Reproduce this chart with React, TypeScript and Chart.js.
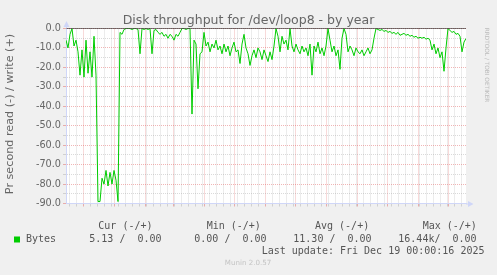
import React, { useEffect, useRef } from 'react';
import { Chart, registerables } from 'chart.js';

Chart.register(...registerables);

const TITLE = 'Disk throughput for /dev/loop8 - by year';
const Y_TITLE = 'Pr second read (-) / write (+)';
const SERIES_LABEL = 'Bytes';

// Day offsets from the graph start (14 Nov 2024) to the last update (19 Dec 2025)
const RANGE_DAYS = 400;
const SAMPLE_STEP_DAYS = 2;

// read rate (plotted negative), one value every 2 days
const readPerSecond = [
  -6, -10, -3, 0, -9, -6, -12, -24, -11, -25,
  -6, -23, -12, -25, -4, -24, -89, -89, -77, -80,
  -73, -81, -74, -80, -73, -78, -89, -2, -3, -0.5,
  0, 0, 0, -0.5, 0, 0, -0.5, -13, 0, -0.5,
  0, -0.5, 0, -13, -1, -0.5, -2, -3, -2, -4,
  -3, -5, -3, -4, -6, -3, -4, -2, 0, 0,
  -0.5, 0, 0, -44, -6, -8, -31, -13, -12, -2,
  -9, -7, -12, -8, -10, -6, -11, -9, -13, -8,
  -12, -9, -14, -10, -7, -12, -11, -18, -8, -3,
  -10, -13, -19, -14, -11, -15, -10, -12, -16, -11,
  -14, -17, -12, -16, -9, 0, -4, -12, -4, -8,
  -6, -11, 0, -9, -12, -8, -11, -13, -9, -12,
  -10, -14, -8, -24, -9, -12, -7, -13, -10, -14,
  -9, 0, -6, -12, -9, -14, -11, -21, -5, 0,
  -3, -12, -9, -11, -14, -10, -12, -13, -11, -14,
  -12, -10, -13, -11, -5, 0, -0.5, -1, -0.5, -1.5,
  -1, -2, -1.5, -2.5, -2, -3, -2, -3.5, -3, -2.5,
  -3.5, -3, -4, -3.5, -4.5, -4, -5, -4.5, -5, -4.5,
  -5.5, -5, -6, -11, -8, -13, -10, -15, -12, -22,
  -10, 0, -1, -2, -1.5, -3, -2.5, -4, -12, -7,
  -5.13,
];
const sampleDays = readPerSecond.map((_, i) => i * SAMPLE_STEP_DAYS);

const monthStartDays = [17, 48, 79, 107, 138, 168, 199, 229, 260, 291, 321, 352, 382];
const FIRST_SUNDAY_DAY = 3;
const quarterLabelDays = [63, 153, 244, 336];
const quarterLabels = ['January 2025', 'April 2025', 'July 2025', 'October 2025'];
const yTickValues = [-90, -85, -80, -75, -70, -65, -60, -55, -50, -45, -40, -35, -30, -25, -20, -15, -10, -5, 0];

const legendHeaders = ['Cur (-/+)', 'Min (-/+)', 'Avg (-/+)', 'Max (-/+)'];
const legendValues = ['5.13 /  0.00', '0.00 /  0.00', '11.30 /  0.00', '16.44k/  0.00'];
const LAST_UPDATE = 'Last update: Fri Dec 19 00:00:16 2025';
const FOOTER = 'Munin 2.0.57';
const WATERMARK = 'RRDTOOL / TOBI OETIKER';

const FONT_COLOR = '#666666';
const AXIS_COLOR = '#CFD6F8';
const MAJOR_GRID = 'rgba(222,79,79,0.42)';
const MINOR_GRID = 'rgba(143,143,143,0.33)';
const LINE_COLOR = '#00CC00';

const weekDays: number[] = [];
for (let d = FIRST_SUNDAY_DAY; d < RANGE_DAYS; d += 7) weekDays.push(d);

const xKind = new Map<number, string>();
weekDays.forEach((d) => xKind.set(d, 'week'));
monthStartDays.forEach((d) => xKind.set(d, 'month'));
quarterLabelDays.forEach((d, i) => xKind.set(d, 'label:' + i));
const xTickValues = Array.from(xKind.keys()).sort((a, b) => a - b);

const muninPlugin = {
  id: 'muninDecor',
  beforeDraw(chart: any) {
    const { ctx, chartArea: a, width, height } = chart;
    ctx.save();
    ctx.fillStyle = '#F0F0F0';
    ctx.fillRect(0, 0, width, height);
    ctx.fillStyle = '#FFFFFF';
    ctx.fillRect(a.left, a.top, a.right - a.left, a.bottom - a.top);
    ctx.restore();
  },
  afterDraw(chart: any) {
    const { ctx, chartArea: a } = chart;
    ctx.save();
    // title
    ctx.fillStyle = FONT_COLOR;
    ctx.font = '12.5px "DejaVu Sans"';
    ctx.textAlign = 'center';
    ctx.textBaseline = 'alphabetic';
    ctx.fillText(TITLE, 248.5, 24);

    // y title
    ctx.save();
    ctx.translate(10.5, 114);
    ctx.rotate(-Math.PI / 2);
    ctx.font = '11.2px "DejaVu Sans"';
    ctx.textBaseline = 'middle';
    ctx.fillText(Y_TITLE, 0, 0);
    ctx.restore();

    // watermark
    ctx.save();
    ctx.translate(487, 65);
    ctx.rotate(Math.PI / 2);
    ctx.font = '5.8px "DejaVu Sans"';
    ctx.fillStyle = '#BBBBBB';
    ctx.textBaseline = 'middle';
    ctx.fillText(WATERMARK, 0, 0);
    ctx.restore();

    // axis arrows
    const yb = Math.round(a.bottom);
    ctx.strokeStyle = AXIS_COLOR;
    ctx.fillStyle = AXIS_COLOR;
    ctx.lineWidth = 1;
    ctx.beginPath();
    ctx.moveTo(a.right, yb);
    ctx.lineTo(469, yb);
    ctx.stroke();
    ctx.beginPath();
    ctx.moveTo(468, yb - 3);
    ctx.lineTo(473.5, yb);
    ctx.lineTo(468, yb + 3);
    ctx.closePath();
    ctx.fill();
    const xl = Math.round(a.left) + 0.5;
    ctx.beginPath();
    ctx.moveTo(xl, a.top);
    ctx.lineTo(xl, 26);
    ctx.stroke();
    ctx.beginPath();
    ctx.moveTo(xl - 3, 27);
    ctx.lineTo(xl, 21);
    ctx.lineTo(xl + 3, 27);
    ctx.closePath();
    ctx.fill();

    // legend
    ctx.font = '10px "DejaVu Sans Mono"';
    ctx.fillStyle = '#555555';
    ctx.textAlign = 'left';
    ctx.textBaseline = 'middle';
    const headerX = [98.3, 206.7, 315, 422.7];
    legendHeaders.forEach((t, i) => ctx.fillText(t, headerX[i], 226.8));
    const valueX = [89.3, 194.3, 293.3, 398.3];
    legendValues.forEach((t, i) => ctx.fillText(t, valueX[i], 239.5));
    ctx.fillText(SERIES_LABEL, 26, 239.5);
    ctx.fillText(LAST_UPDATE, 261.7, 251.8);
    ctx.fillStyle = LINE_COLOR;
    ctx.fillRect(14, 236.5, 6, 6);

    // footer
    ctx.font = '7.1px "DejaVu Sans"';
    ctx.fillStyle = '#C4C4C4';
    ctx.textAlign = 'center';
    ctx.fillText(FOOTER, 248, 263.5);
    ctx.restore();
  },
};

export default function App() {
  const ref = useRef<HTMLCanvasElement>(null);
  useEffect(() => {
    document.body.style.margin = '0';
    document.body.style.background = '#F0F0F0';
    const canvas = ref.current;
    if (!canvas) return;
    const chart = new Chart(canvas, {
      type: 'line',
      data: {
        datasets: [
          {
            label: 'zero',
            data: [
              { x: 0, y: 0 },
              { x: RANGE_DAYS, y: 0 },
            ],
            borderColor: '#000000',
            borderWidth: 1,
            pointRadius: 0,
            order: 0,
          },
          {
            label: SERIES_LABEL,
            data: sampleDays.map((d, i) => ({ x: d, y: readPerSecond[i] })),
            borderColor: LINE_COLOR,
            borderWidth: 1,
            pointRadius: 0,
            tension: 0,
            order: 1,
          },
        ],
      },
      options: {
        responsive: false,
        animation: false,
        devicePixelRatio: 1,
        events: [],
        layout: { padding: { left: 0, right: 31, top: 28.5, bottom: 71.5 } },
        plugins: { legend: { display: false }, tooltip: { enabled: false }, title: { display: false } },
        scales: {
          x: {
            type: 'linear',
            min: 0,
            max: RANGE_DAYS,
            afterBuildTicks: (s: any) => {
              s.ticks = xTickValues.map((v) => ({ value: v }));
            },
            afterFit: (s: any) => {
              s.height = 0;
            },
            grid: {
              color: (c: any) => {
                const k = xKind.get(c.tick?.value);
                return k === 'month' ? MAJOR_GRID : k === 'week' ? MINOR_GRID : 'rgba(0,0,0,0)';
              },
              tickColor: (c: any) => {
                const k = xKind.get(c.tick?.value);
                return k === 'month' ? MAJOR_GRID : k === 'week' ? MINOR_GRID : 'rgba(0,0,0,0)';
              },
              tickLength: 3,
              drawTicks: true,
            },
            border: { display: true, color: AXIS_COLOR, dash: [1, 1] },
            ticks: {
              autoSkip: false,
              maxRotation: 0,
              minRotation: 0,
              padding: 1,
              color: FONT_COLOR,
              font: { family: 'DejaVu Sans', size: 9.7 },
              callback: (v: any) => {
                const k = xKind.get(Number(v));
                return k && k.startsWith('label:') ? quarterLabels[Number(k.slice(6))] : '';
              },
            },
          },
          y: {
            type: 'linear',
            min: -90,
            max: 0,
            afterBuildTicks: (s: any) => {
              s.ticks = yTickValues.map((v) => ({ value: v }));
            },
            afterFit: (s: any) => {
              s.width = 66;
            },
            grid: {
              color: (c: any) => (c.tick?.value % 10 === 0 ? MAJOR_GRID : MINOR_GRID),
              tickColor: (c: any) => (c.tick?.value % 10 === 0 ? MAJOR_GRID : MINOR_GRID),
              tickLength: 3,
              drawTicks: true,
            },
            border: { display: true, color: AXIS_COLOR, dash: [1, 1] },
            ticks: {
              autoSkip: false,
              padding: 2,
              color: FONT_COLOR,
              font: { family: 'DejaVu Sans', size: 9.7 },
              callback: (v: any) => (Number(v) % 10 === 0 ? Number(v).toFixed(1) : ''),
            },
          },
        },
      },
      plugins: [muninPlugin],
    } as any);
    return () => chart.destroy();
  }, []);
  return (
    <div style={{ width: 497, height: 275 }}>
      <canvas ref={ref} width={497} height={275} style={{ display: 'block', width: 497, height: 275 }} />
    </div>
  );
}
